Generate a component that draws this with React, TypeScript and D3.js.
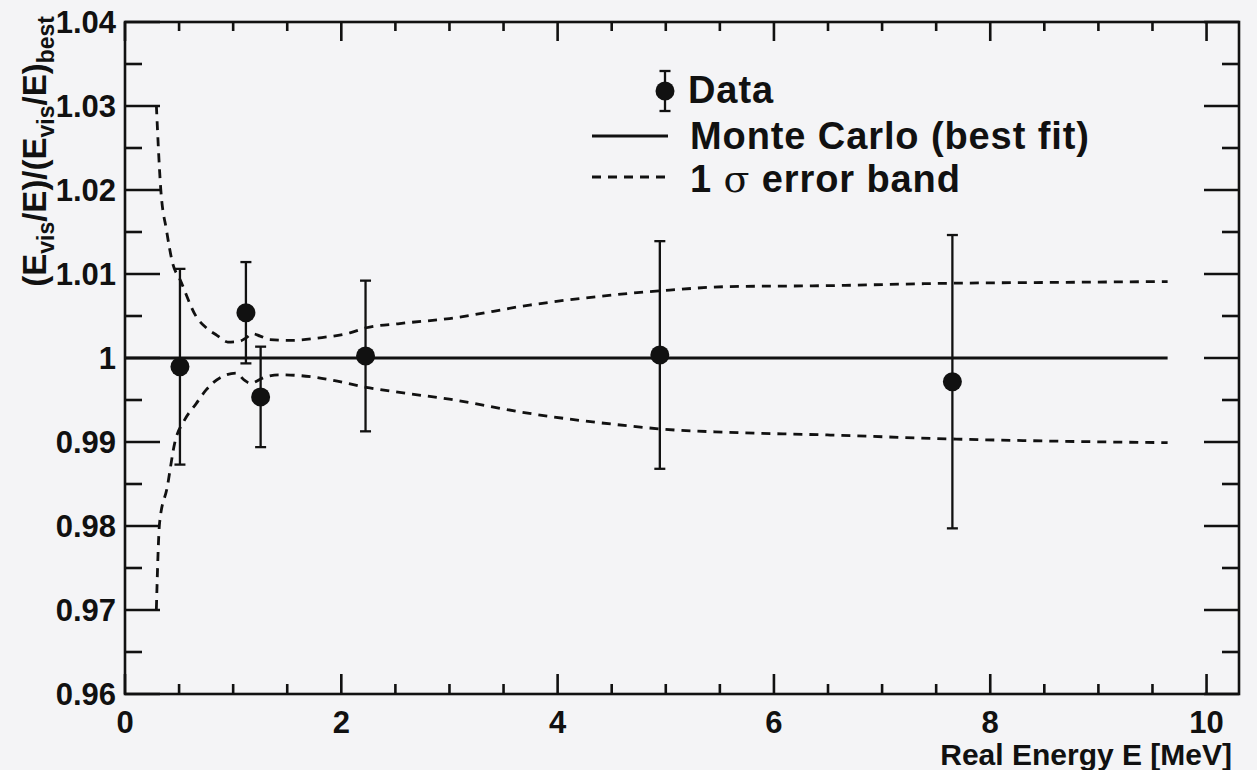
import React, { useEffect, useRef } from "react";
import * as d3 from "d3";

// Measured energy-scale points: real energy [MeV], ratio, symmetric 1-sigma error
const dataE = [0.508, 1.118, 1.254, 2.224, 4.945, 7.65];
const dataR = [0.99896, 1.00539, 0.99537, 1.00024, 1.00036, 0.99718];
const dataErr = [0.01165, 0.00603, 0.00598, 0.00897, 0.01355, 0.01746];

// Best-fit Monte Carlo curve (flat at unity)
const fitE = [0, 9.64];
const fitR = [1, 1];

// 1 sigma error band, upper and lower edges
const bandUpE = [0.29, 0.33, 0.384, 0.44, 0.51, 0.66, 0.75, 0.85, 0.95, 1.06, 1.12, 1.18, 1.25, 1.34, 1.53, 1.8, 2.08, 2.23, 2.54, 3.0, 3.74, 4.67, 4.95, 5.59, 6.42, 7.65, 8.6, 9.64];
const bandUpR = [1.0301, 1.0202, 1.0152, 1.0113, 1.0093, 1.0049, 1.0036, 1.0027, 1.0019, 1.002, 1.0024, 1.0029, 1.0026, 1.0022, 1.0021, 1.0024, 1.003, 1.0036, 1.0041, 1.0047, 1.0063, 1.0077, 1.008, 1.0085, 1.0086, 1.0089, 1.009, 1.0091];
const bandLoE = [0.29, 0.32, 0.39, 0.46, 0.55, 0.66, 0.75, 0.9, 1.03, 1.1, 1.16, 1.29, 1.43, 1.62, 1.9, 2.23, 2.54, 3.0, 3.74, 4.67, 4.95, 5.59, 6.52, 7.65, 8.6, 9.64];
const bandLoR = [0.9701, 0.9804, 0.9846, 0.9899, 0.9926, 0.9946, 0.9962, 0.9978, 0.9982, 0.9974, 0.997, 0.9977, 0.998, 0.9979, 0.9974, 0.9965, 0.9959, 0.9951, 0.9934, 0.9919, 0.99155, 0.99115, 0.99083, 0.99036, 0.9901, 0.98992];

// Axis ticks
const xMajorTicks = [0, 2, 4, 6, 8, 10];
const xTickLabels = ["0", "2", "4", "6", "8", "10"];
const yMajorTicks = [0.96, 0.97, 0.98, 0.99, 1.0, 1.01, 1.02, 1.03, 1.04];
const yTickLabels = ["0.96", "0.97", "0.98", "0.99", "1", "1.01", "1.02", "1.03", "1.04"];

const W = 1257;
const H = 770;
const FONT = "'Liberation Sans', Arial, Helvetica, sans-serif";
const INK = "#111";

export default function App() {
  const ref = useRef<SVGSVGElement>(null);

  useEffect(() => {
    const svg = d3.select(ref.current);
    svg.selectAll("*").remove();

    const x = d3.scaleLinear().domain([0, 10.3]).range([125, 1239]);
    const y = d3.scaleLinear().domain([0.96, 1.04]).range([694, 22]);

    svg.append("rect").attr("width", W).attr("height", H).attr("fill", "#f4f4f6");

    const g = svg.append("g");

    // Frame
    g.append("rect")
      .attr("x", x(0)).attr("y", y(1.04))
      .attr("width", x(10.3) - x(0)).attr("height", y(0.96) - y(1.04))
      .attr("fill", "none").attr("stroke", INK).attr("stroke-width", 2.6);

    const ticks = g.append("g").attr("stroke", INK).attr("stroke-width", 2.6);

    // X ticks (bottom & top), minor every 0.5
    const xMinor = d3.range(0, 10.3, 0.5).filter((v) => Math.abs(v / 2 - Math.round(v / 2)) > 1e-6);
    xMajorTicks.forEach((v) => {
      ticks.append("line").attr("x1", x(v)).attr("x2", x(v)).attr("y1", y(0.96)).attr("y2", y(0.96) - 20);
      ticks.append("line").attr("x1", x(v)).attr("x2", x(v)).attr("y1", y(1.04)).attr("y2", y(1.04) + 19);
    });
    xMinor.forEach((v) => {
      ticks.append("line").attr("x1", x(v)).attr("x2", x(v)).attr("y1", y(0.96)).attr("y2", y(0.96) - 10);
      ticks.append("line").attr("x1", x(v)).attr("x2", x(v)).attr("y1", y(1.04)).attr("y2", y(1.04) + 9);
    });

    // Y ticks (left & right), minor every 0.005
    const yMinor = d3.range(0, 8).map((i) => 0.965 + i * 0.01);
    yMajorTicks.forEach((v) => {
      ticks.append("line").attr("x1", x(0)).attr("x2", x(0) + 35).attr("y1", y(v)).attr("y2", y(v));
      ticks.append("line").attr("x1", x(10.3)).attr("x2", x(10.3) - 35).attr("y1", y(v)).attr("y2", y(v));
    });
    yMinor.forEach((v) => {
      ticks.append("line").attr("x1", x(0)).attr("x2", x(0) + 17).attr("y1", y(v)).attr("y2", y(v));
      ticks.append("line").attr("x1", x(10.3)).attr("x2", x(10.3) - 17).attr("y1", y(v)).attr("y2", y(v));
    });

    // Tick labels
    yMajorTicks.forEach((v, i) => {
      g.append("text").attr("x", 116).attr("y", y(v) + 11)
        .attr("text-anchor", "end").attr("font-family", FONT).attr("font-weight", "bold")
        .attr("font-size", 31).attr("fill", INK).text(yTickLabels[i]);
    });
    xMajorTicks.forEach((v, i) => {
      g.append("text").attr("x", x(v)).attr("y", 733)
        .attr("text-anchor", "middle").attr("font-family", FONT).attr("font-weight", "bold")
        .attr("font-size", 31).attr("fill", INK).text(xTickLabels[i]);
    });

    // Axis titles
    g.append("text").attr("x", 1232).attr("y", 765)
      .attr("text-anchor", "end").attr("font-family", FONT).attr("font-weight", "bold")
      .attr("font-size", 30).attr("fill", INK).text("Real Energy E [MeV]");

    const yt = g.append("text")
      .attr("transform", "translate(46,16) rotate(-90)")
      .attr("text-anchor", "end").attr("font-family", FONT).attr("font-weight", "bold")
      .attr("font-size", 33).attr("fill", INK);
    const sub = (t: string) => {
      yt.append("tspan").attr("font-size", 23).attr("dy", 8).text(t);
    };
    yt.append("tspan").text("(E");
    sub("vis");
    yt.append("tspan").attr("dy", -8).text("/E)/(E");
    sub("vis");
    yt.append("tspan").attr("dy", -8).text("/E)");
    sub("best");

    // Error band
    const band = d3.line<[number, number]>().x((d) => x(d[0])).y((d) => y(d[1])).curve(d3.curveMonotoneX);
    const upPts = bandUpE.map((e, i) => [e, bandUpR[i]] as [number, number]);
    const loPts = bandLoE.map((e, i) => [e, bandLoR[i]] as [number, number]);
    [upPts, loPts].forEach((pts) => {
      g.append("path").attr("d", band(pts)).attr("fill", "none")
        .attr("stroke", INK).attr("stroke-width", 2.8).attr("stroke-dasharray", "9,7");
    });

    // Best fit
    const fitLine = d3.line<number>().x((d) => x(d)).y((_, i) => y(fitR[i]));
    g.append("path").attr("d", fitLine(fitE)).attr("fill", "none").attr("stroke", INK).attr("stroke-width", 2.8);

    // Data points with error bars
    const pts = g.append("g");
    dataE.forEach((e, i) => {
      const cx = x(e);
      const top = y(dataR[i] + dataErr[i]);
      const bot = y(dataR[i] - dataErr[i]);
      pts.append("line").attr("x1", cx).attr("x2", cx).attr("y1", top).attr("y2", bot).attr("stroke", INK).attr("stroke-width", 2.3);
      pts.append("line").attr("x1", cx - 5.5).attr("x2", cx + 5.5).attr("y1", top).attr("y2", top).attr("stroke", INK).attr("stroke-width", 2.3);
      pts.append("line").attr("x1", cx - 5.5).attr("x2", cx + 5.5).attr("y1", bot).attr("y2", bot).attr("stroke", INK).attr("stroke-width", 2.3);
      pts.append("circle").attr("cx", cx).attr("cy", y(dataR[i])).attr("r", 9.5).attr("fill", INK);
    });

    // Legend
    const lg = g.append("g").attr("font-family", FONT).attr("font-weight", "bold")
      .attr("font-size", 38).attr("letter-spacing", 0.9).attr("fill", INK);
    const mx = 665;
    lg.append("line").attr("x1", mx).attr("x2", mx).attr("y1", 71).attr("y2", 111).attr("stroke", INK).attr("stroke-width", 2.3);
    lg.append("line").attr("x1", mx - 5.5).attr("x2", mx + 5.5).attr("y1", 71).attr("y2", 71).attr("stroke", INK).attr("stroke-width", 2.3);
    lg.append("line").attr("x1", mx - 5.5).attr("x2", mx + 5.5).attr("y1", 111).attr("y2", 111).attr("stroke", INK).attr("stroke-width", 2.3);
    lg.append("circle").attr("cx", mx).attr("cy", 91).attr("r", 9.5).attr("fill", INK);
    lg.append("text").attr("x", 688).attr("y", 103).text("Data");

    lg.append("line").attr("x1", 592).attr("x2", 668).attr("y1", 136).attr("y2", 136).attr("stroke", INK).attr("stroke-width", 2.8);
    lg.append("text").attr("x", 690).attr("y", 149).text("Monte Carlo (best fit)");

    lg.append("line").attr("x1", 592).attr("x2", 668).attr("y1", 177).attr("y2", 177)
      .attr("stroke", INK).attr("stroke-width", 2.8).attr("stroke-dasharray", "9,7");
    const bt = lg.append("text").attr("x", 690).attr("y", 192);
    bt.append("tspan").text("1 ");
    bt.append("tspan").attr("font-family", "'DejaVu Serif', serif").attr("font-weight", "normal").text("σ");
    bt.append("tspan").text(" error band");
  }, []);

  return <svg ref={ref} width={W} height={H} style={{ position: "absolute", left: 0, top: 0 }} />;
}
